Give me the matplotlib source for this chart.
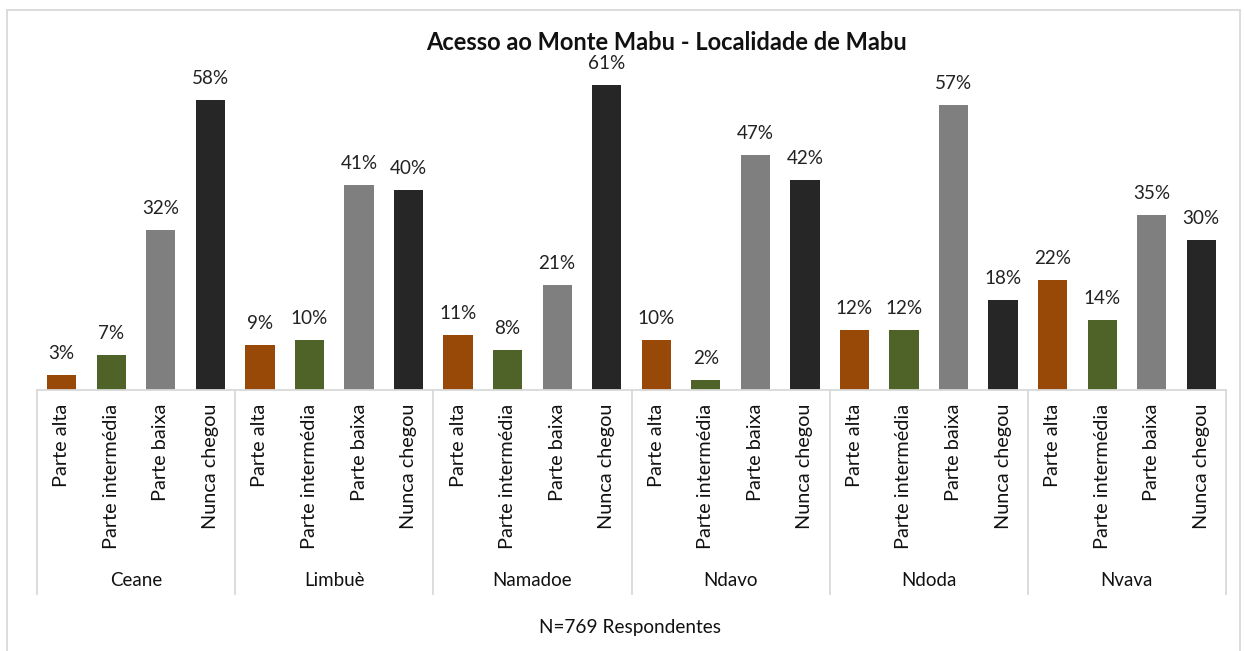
import matplotlib.pyplot as plt
import matplotlib.transforms as mtransforms
from matplotlib.patches import Rectangle

plt.rcParams['font.family'] = ['Lato', 'DejaVu Sans']

localidades = ['Ceane', 'Limbuè', 'Namadoe', 'Ndavo', 'Ndoda', 'Nvava']
categorias = ['Parte alta', 'Parte intermédia', 'Parte baixa', 'Nunca chegou']
valores = [
    [3, 7, 32, 58],
    [9, 10, 41, 40],
    [11, 8, 21, 61],
    [10, 2, 47, 42],
    [12, 12, 57, 18],
    [22, 14, 35, 30],
]
cores = ['#984807', '#4F6228', '#7F7F7F', '#262626']

W, H = 1244, 651
fig = plt.figure(figsize=(W / 100, H / 100), dpi=100)
ax = fig.add_axes([37 / W, 1 - 390 / H, (1226 - 37) / W, 343 / H])

n_cat = len(categorias)
for g, vals in enumerate(valores):
    for c, v in enumerate(vals):
        x = g * n_cat + c
        ax.bar(x, v, width=0.59, color=cores[c])
        ax.annotate(f'{v}%', (x, v), xytext=(0, 9), textcoords='offset points',
                    ha='center', va='bottom', fontsize=13.6, color='#222222')

n = len(localidades) * n_cat
ax.set_xlim(-0.5, n - 0.5)
ax.set_ylim(0, 68.5)
ax.set_xticks([])
ax.set_yticks([])
for s in ['top', 'right', 'left']:
    ax.spines[s].set_visible(False)
ax.spines['bottom'].set_color('#d9d9d9')
ax.spines['bottom'].set_linewidth(1.3)

# multi-level category axis
tr = mtransforms.blended_transform_factory(ax.transData, fig.transFigure)
y_top = 1 - 390 / H
y_bot = 1 - 594 / H
for g in range(len(localidades) + 1):
    xb = g * n_cat - 0.5
    ax.plot([xb, xb], [y_top, y_bot], transform=tr, color='#d9d9d9',
            lw=1.3, clip_on=False)
for g, nome in enumerate(localidades):
    for c, cat in enumerate(categorias):
        ax.text(g * n_cat + c, 1 - 404 / H, cat, transform=tr, rotation=90,
                ha='center', va='top', fontsize=14.3, color='#111111')
    ax.text(g * n_cat + 1.5, 1 - 580 / H, nome, transform=tr,
            ha='center', va='center', fontsize=13.5, color='#111111')

fig.text(666 / W, 1 - 42 / H, 'Acesso ao Monte Mabu - Localidade de Mabu',
         ha='center', va='center', fontsize=17, fontweight='bold', color='#111111')
fig.text(630 / W, 1 - 627 / H, 'N=769 Respondentes', ha='center', va='center',
         fontsize=13.7, color='#111111')

fig.patches.append(Rectangle((7 / W, -0.05), (1240 - 7) / W, 1.05 - 10 / H,
                             transform=fig.transFigure, fill=False,
                             edgecolor='#d9d9d9', lw=1.3))

fig.savefig('out.png', dpi=100)
